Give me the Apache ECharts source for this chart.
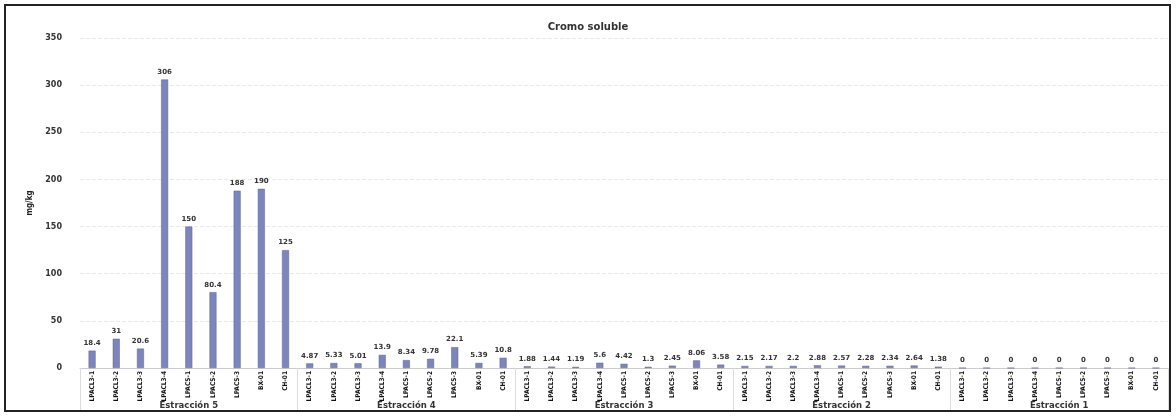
<!DOCTYPE html>
<html>
<head>
<meta charset="utf-8">
<script src="https://cdn.jsdelivr.net/npm/echarts@6/dist/echarts.min.js"></script>
<style>html,body{margin:0;padding:0;background:#fff;}#c{width:1176px;height:416px;}</style>
</head>
<body>
<div id="c"></div>
<script>
var samples = ["LPACL3-1","LPACL3-2","LPACL3-3","LPACL3-4","LPACS-1","LPACS-2","LPACS-3","BX-01","CH-01"];
var groups = ["Estracción 5","Estracción 4","Estracción 3","Estracción 2","Estracción 1"];
var ext5 = [18.4, 31, 20.6, 306, 150, 80.4, 188, 190, 125];
var ext4 = [4.87, 5.33, 5.01, 13.9, 8.34, 9.78, 22.1, 5.39, 10.8];
var ext3 = [1.88, 1.44, 1.19, 5.6, 4.42, 1.3, 2.45, 8.06, 3.58];
var ext2 = [2.15, 2.17, 2.2, 2.88, 2.57, 2.28, 2.34, 2.64, 1.38];
var ext1 = [0, 0, 0, 0, 0, 0, 0, 0, 0];
var yTicks = [0, 50, 100, 150, 200, 250, 300, 350];

var cats = [], vals = [];
[ext5, ext4, ext3, ext2, ext1].forEach(function (arr) {
  arr.forEach(function (v, i) { cats.push(samples[i]); vals.push(v); });
});

var chart = echarts.init(document.getElementById('c'), null, {renderer: 'canvas'});
var font = 'DejaVu Sans';
var narrow = '"Liberation Sans Narrow", "DejaVu Sans Condensed", "Liberation Sans", sans-serif';
chart.setOption({
  animation: false,
  backgroundColor: '#fff',
  title: {
    text: 'Cromo soluble', left: 'center', top: 17,
    textStyle: {fontFamily: font, fontSize: 10, fontWeight: 'bold', color: '#333'}
  },
  grid: {left: 80, right: 8, top: 38, bottom: 48},
  xAxis: [{
    type: 'category', data: cats, position: 'bottom',
    axisLine: {show: true, lineStyle: {color: '#ccc'}},
    axisTick: {show: false},
    axisLabel: {interval: 0, rotate: 90, fontFamily: narrow, fontSize: 6.5, fontWeight: 'bold', color: '#111', margin: 3}
  }, {
    type: 'category', data: groups, position: 'bottom',
    axisLine: {show: false},
    axisTick: {show: true, length: 42, lineStyle: {color: '#ddd'}},
    axisLabel: {fontFamily: font, fontSize: 8.5, fontWeight: 'bold', color: '#333', margin: 33}
  }],
  yAxis: {
    type: 'value', min: yTicks[0], max: yTicks[yTicks.length - 1], interval: 50,
    name: 'mg/kg', nameLocation: 'middle', nameGap: 42, nameRotate: 90,
    nameTextStyle: {fontFamily: narrow, fontSize: 8, fontWeight: 'bold', color: '#222'},
    axisLine: {show: false}, axisTick: {show: false},
    axisLabel: {fontFamily: font, fontSize: 8, fontWeight: 'bold', color: '#333', margin: 18},
    splitLine: {lineStyle: {color: '#eaeaea', type: 'dashed'}}
  },
  series: [{
    type: 'bar', xAxisIndex: 0, data: vals, barWidth: 7,
    itemStyle: {color: '#7d86bb', borderColor: '#5a6399', borderWidth: 0.5},
    label: {show: true, position: 'top', distance: 4, fontFamily: font, fontSize: 7, fontWeight: 'bold', color: '#333'}
  }],
  graphic: [{
    type: 'rect', shape: {x: 5, y: 5, width: 1165, height: 406},
    style: {fill: 'none', stroke: '#222', lineWidth: 2}, silent: true
  }]
});
</script>
</body>
</html>
